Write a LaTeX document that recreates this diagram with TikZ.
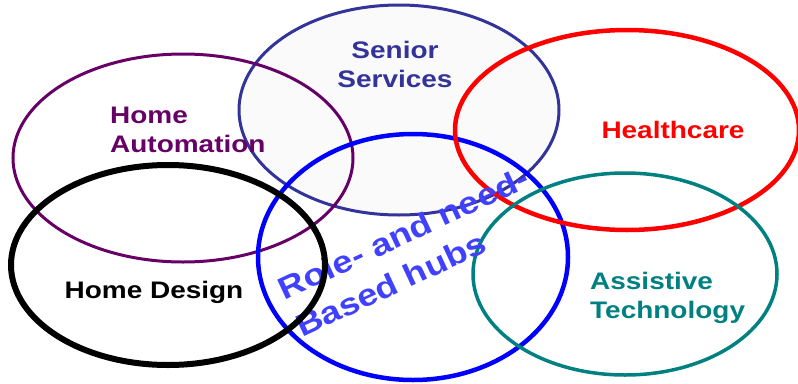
\documentclass[tikz,border=0pt]{standalone}
\usepackage{fontspec}
\newfontfamily\slidefont[FakeStretch=1.17]{Liberation Sans}
\definecolor{autopurple}{RGB}{102,0,102}
\definecolor{seniorblue}{RGB}{51,51,153}
\definecolor{hubblue}{RGB}{0,0,255}
\definecolor{hubtextblue}{RGB}{64,64,255}
\definecolor{assistteal}{RGB}{0,128,128}

\begin{document}
\begin{tikzpicture}[x=1pt, y=-1pt,
    ringtext/.style={inner sep=0pt, font=\slidefont\bfseries\fontsize{23.9}{29}\selectfont},
    hubtext/.style={inner sep=0pt, text=hubtextblue, rotate=25, align=left,
        font=\slidefont\bfseries\fontsize{31}{41}\selectfont}]
    \useasboundingbox (0,0) rectangle (798,383);
    \filldraw[fill=black!2, draw=seniorblue, line width=3pt] (399,110) ellipse [x radius=160, y radius=105];
    \draw[autopurple, line width=3pt] (183,158) ellipse [x radius=170, y radius=104];
    \draw[hubblue, line width=4.5pt] (413,257) ellipse [x radius=155, y radius=123];
    \draw[red, line width=4.5pt] (627,130) ellipse [x radius=172, y radius=100];
    \draw[assistteal, line width=3.5pt] (625,274) ellipse [x radius=152, y radius=101];
    \node[hubtext, anchor=base west] (hubs) at (302,338) {Role- and need-\\Based hubs};
    \draw[black, line width=6pt] (168,265) ellipse [x radius=157, y radius=100];
    \node[ringtext, text=autopurple, align=left, anchor=base west] (automation) at (110,152) {Home\\Automation};
    \node[ringtext, text=seniorblue, align=center, anchor=base] (senior) at (395,87) {Senior\\Services};
    \node[ringtext, text=red, anchor=base] (health) at (673,138) {Healthcare};
    \node[ringtext, text=black, anchor=base] (design) at (154,298) {Home Design};
    \node[ringtext, text=assistteal, align=left, anchor=base west] (assist) at (590,318) {Assistive\\Technology};
\end{tikzpicture}
\end{document}
